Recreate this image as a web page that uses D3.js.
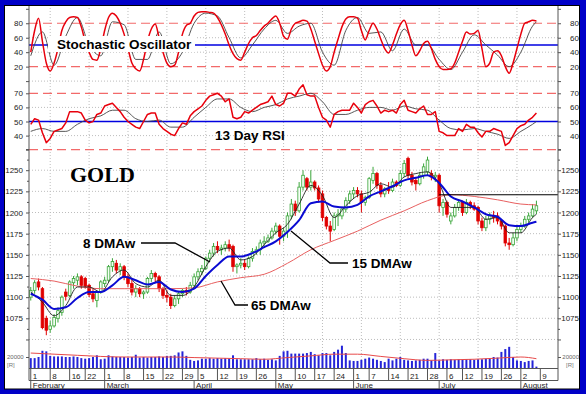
<!DOCTYPE html>
<html>
<head>
<meta charset="utf-8">
<script src="https://cdn.jsdelivr.net/npm/d3@7"></script>
<style>
  body { margin: 0; background: #fff; }
  svg text { font-family: "Liberation Sans", Arial, sans-serif; }
</style>
</head>
<body>
<svg id="mainsvg" width="586" height="394"></svg>
<script>
// ---- data (trading days, Feb 1 .. Aug 6) ----
const open = [1100,1108,1118,1110,1075,1062,1066,1075,1082,1106,
  1102,1117,1120,1124,1122,1114,1104,1096,1106,1116,
  1120,1136,1140,1132,1136,1124,1116,1106,1110,1104,
  1106,1122,1128,1124,1110,1102,1100,1090,1098,1104,
  1108,1106,1114,1124,1130,1134,1146,1152,1160,1156,
  1158,1162,1160,1136,1138,1140,1136,1146,1154,1156,
  1164,1166,1170,1178,1184,1172,1178,1196,1210,1202,
  1230,1240,1230,1236,1229,1222,1194,1184,1180,1196,
  1196,1204,1214,1222,1226,1222,1212,1218,1238,1246,
  1232,1222,1228,1226,1236,1232,1246,1264,1244,1238,
  1234,1244,1248,1246,1242,1244,1206,1212,1190,1196,
  1206,1212,1200,1212,1208,1206,1190,1182,1192,1196,
  1196,1190,1184,1164,1162,1170,1180,1184,1192,1196,
  1202]
const high = [1112,1120,1122,1112,1078,1072,1080,1088,1102,1110,
  1120,1125,1128,1126,1124,1116,1110,1108,1120,1124,
  1138,1146,1144,1140,1138,1128,1122,1114,1112,1108,
  1124,1132,1130,1126,1112,1108,1104,1102,1106,1110,
  1112,1118,1128,1134,1138,1148,1156,1164,1166,1162,
  1166,1168,1162,1140,1146,1144,1148,1158,1160,1168,
  1172,1174,1182,1188,1186,1182,1200,1216,1214,1236,
  1250,1242,1250,1238,1232,1226,1196,1190,1200,1204,
  1206,1218,1226,1230,1230,1226,1220,1242,1254,1248,
  1236,1230,1236,1240,1238,1250,1262,1266,1248,1242,
  1248,1258,1266,1250,1248,1246,1216,1214,1200,1210,
  1216,1214,1216,1214,1212,1208,1194,1196,1200,1202,
  1200,1192,1186,1170,1176,1184,1188,1196,1200,1210,
  1214]
const low = [1096,1104,1108,1062,1055,1058,1064,1070,1078,1096,
  1100,1110,1114,1110,1110,1100,1094,1088,1104,1112,
  1118,1130,1128,1126,1120,1112,1102,1100,1100,1098,
  1104,1118,1118,1106,1098,1094,1086,1088,1092,1100,
  1102,1104,1112,1120,1126,1132,1142,1148,1152,1150,
  1154,1154,1130,1128,1134,1132,1134,1142,1150,1150,
  1158,1164,1168,1174,1162,1166,1170,1192,1196,1200,
  1226,1226,1226,1226,1212,1190,1180,1166,1178,1184,
  1192,1200,1210,1216,1218,1200,1208,1216,1234,1228,
  1218,1218,1222,1224,1230,1230,1242,1240,1232,1226,
  1232,1240,1244,1238,1236,1200,1196,1194,1186,1194,
  1202,1196,1198,1204,1202,1186,1178,1178,1186,1188,
  1186,1180,1160,1156,1160,1166,1176,1182,1188,1194,
  1198]
const close = [1108,1117,1112,1064,1061,1066,1076,1084,1100,1101,
  1118,1122,1124,1114,1113,1103,1098,1106,1118,1120,
  1136,1142,1132,1136,1124,1116,1106,1110,1104,1106,
  1122,1128,1124,1110,1102,1100,1090,1098,1104,1108,
  1106,1114,1124,1130,1134,1146,1152,1160,1156,1158,
  1162,1158,1136,1138,1140,1136,1146,1154,1156,1164,
  1166,1170,1178,1184,1172,1178,1196,1210,1202,1230,
  1244,1230,1236,1229,1216,1194,1184,1178,1196,1198,
  1204,1214,1222,1226,1222,1212,1218,1240,1246,1232,
  1222,1228,1226,1236,1232,1246,1258,1244,1236,1234,
  1244,1254,1262,1242,1244,1208,1212,1198,1196,1206,
  1212,1200,1212,1208,1204,1190,1182,1192,1196,1194,
  1190,1184,1164,1162,1170,1180,1184,1192,1196,1204,
  1208]
const volume = [18,18,20,31,30,22,21,21,21,20,
  20,21,20,18,17,18,20,23,16,17,
  23,21,20,20,20,19,20,24,19,20,
  19,20,20,21,20,22,22,23,28,30,
  22,15,13,14,17,17,18,17,18,17,
  18,17,23,16,16,16,16,16,18,16,
  17,15,16,14,22,30,31,26,26,26,
  26,27,29,25,23,27,27,23,29,33,
  40,27,14,13,13,15,17,19,17,15,
  13,11,17,14,17,20,15,14,13,14,
  15,17,17,14,27,14,16,15,16,15,
  16,15,16,16,15,16,16,17,17,20,
  19,29,34,38,20,14,13,11,13,14,
  3]   // thousands
const stochK = [40,70,87,55,25,14,25,45,70,82,
  88,89,88,75,55,40,30,29,45,70,
  88,94,90,80,65,45,25,17,14,30,
  55,72,79,60,40,25,20,22,40,65,
  77,80,90,95,96,96,95,94,88,78,
  65,50,38,31,29,40,52,60,63,70,
  76,80,86,90,80,62,58,72,80,82,
  84,83,72,55,38,22,14,20,40,58,
  75,86,89,89,87,70,57,70,80,72,
  58,45,39,50,65,78,84,70,50,35,
  42,52,55,45,30,20,16,16,17,25,
  40,55,68,65,66,70,45,20,25,40,
  42,35,20,11,25,45,65,80,82,84,
  83]
const rsi = [48,52,51,42,35,38,43,44,45,49,
  57,57,57,56,51,49,50,55,56,61,
  62,63,60,57,53,50,48,46,45,50,
  55,56,56,48,45,43,41,40,45,49,
  48,54,57,59,61,65,68,69,70,68,
  64,66,53,52,53,57,56,58,60,62,
  63,64,68,62,61,63,70,70,68,73,
  76,69,68,68,60,53,51,46,55,57,
  58,58,58,63,60,56,62,64,65,61,
  56,58,57,58,56,62,65,58,57,56,
  59,61,55,55,57,43,42,40,40,40,
  45,43,48,46,46,42,39,43,43,45,
  44,43,33,35,40,45,47,48,51,53,
  56]

// smoothed lines read every 3rd trading day
const smoothDays = d3.range(0, 130, 3).concat([130])
const ma15 = [1104,1097,1086,1088,1099,1106,1106,1114,1124,1120,1115,1118,1109,1106,1110,
  1125,1138,1148,1148,1152,1159,1166,1177,1191,1211,1213,1207,1206,1209,1219,
  1225,1231,1238,1241,1244,1235,1219,1213,1206,1198,1195,1185,1184,1188,1189]
const ma8 = [1106,1094,1078,1090,1112,1112,1106,1124,1132,1116,1112,1120,1102,1102,1112,
  1136,1154,1158,1144,1148,1162,1176,1186,1210,1232,1220,1194,1208,1220,1224,
  1234,1230,1242,1246,1248,1234,1206,1206,1206,1192,1194,1176,1176,1194,1198]
const stochD = [35,68,22,62,88,50,35,82,78,30,30,68,24,40,80,
  94,90,60,32,50,72,84,66,76,80,40,22,70,88,66,
  68,42,72,50,50,30,16,40,64,50,36,20,40,76,82]
const rsiMA = [43,45,43,43,48,52,54,58,58,52,50,51,46,46,53,
  60,66,66,60,57,60,62,66,68,70,64,55,55,58,60,
  60,58,61,59,58,51,45,44,45,43,41,38,43,48,50]

// slow lines read every 6th trading day
const slowDays = d3.range(0, 130, 6).concat([130])
const ma65 = [1122,1119,1113,1110,1110,1110,1110,1111,1118,1123,1127,1140,
  1156,1167,1178,1191,1202,1214,1221,1219,1215,1210,1209]
const volMA = [27,25,23,21,20,20,20,19,18,17,16,19,22,25,25,21,17,14,15,16,18,20,17]

const resistLevel = 1221, resistFrom = 105

// date axis
const weekDays = [0,5,10,14,19,24,29,34,39,43,48,53,58,63,68,73,78,83,87,92,97,102,107,111,116,121,126,131]
const weekLabels = ['1','8','16','22','1','8','15','22','29','5','12','19','26','3','10','17','24','1','7','14','21','28','6','12','19','26','2','9']
const monthDays = [0,19,42,63,83,105,126]
const monthLabels = ['February','March','April','May','June','July','August']
const gridDays = d3.range(5, 130, 10)

const stochTicks = [0,20,40,60,80,100]
const rsiTicks = [30,40,50,60,70]
const priceTicks = d3.range(1050, 1276, 25)

// ---- chart ----
const svg = d3.select('#mainsvg')
const width = +svg.attr('width')
const height = +svg.attr('height')

svg.append('rect').attr('width', width).attr('height', height).attr('fill', '#0000c8')
svg.append('rect').attr('x', 4.5).attr('y', 5.5).attr('width', 575).attr('height', 383.5)
  .attr('fill', '#fff').attr('stroke', '#000')

const x = d3.scaleLinear().domain([-0.45, 135.55]).range([29, 558])
const yStoch = d3.scaleLinear().domain([0, 100]).range([81.1, 8.8])
const yRsi = d3.scaleLinear().domain([30, 70]).range([149.7, 93.3])
const yPrice = d3.scaleLinear().domain([1075, 1250]).range([318.3, 170.2])
const yVol = d3.scaleLinear().domain([0, 20]).range([368.3, 357])
const days = d3.range(close.length)

const g = svg.append('g')

// grid
const grid = g.append('g').attr('stroke', '#bdbdbd').attr('stroke-dasharray', '1,2')
grid.selectAll('.vg').data(gridDays).join('line')
  .attr('x1', d => x(d)).attr('x2', d => x(d)).attr('y1', 8).attr('y2', 368)
const hgrid = [].concat([0, 40, 60].map(v => yStoch(v)), [40, 60].map(v => yRsi(v)),
  d3.range(1050, 1251, 25).map(v => yPrice(v)))
grid.selectAll('.hg').data(hgrid).join('line')
  .attr('x1', 29).attr('x2', 558).attr('y1', d => d).attr('y2', d => d)

// reference lines
const dashed = [yStoch(80), yStoch(20), yRsi(70), yRsi(30)]
g.selectAll('.dl').data(dashed).join('line')
  .attr('x1', 29).attr('x2', 558).attr('y1', d => d).attr('y2', d => d)
  .attr('stroke', '#f26a6a').attr('stroke-width', 1.2).attr('stroke-dasharray', '9,5')
g.selectAll('.bl').data([yStoch(50), yRsi(50)]).join('line')
  .attr('x1', 29).attr('x2', 558).attr('y1', d => d).attr('y2', d => d)
  .attr('stroke', '#0000e0').attr('stroke-width', 1.5)

function series(xs, vals, yScale, color, w, curve) {
  g.append('path').datum(vals)
    .attr('d', d3.line().x((d, i) => x(xs[i])).y(d => yScale(d)).curve(curve || d3.curveLinear))
    .attr('fill', 'none').attr('stroke', color).attr('stroke-width', w)
    .attr('stroke-linejoin', 'round')
}

// stochastic + rsi
series(smoothDays, stochD, yStoch, '#444', 0.9, d3.curveMonotoneX)
series(days, stochK, yStoch, '#e8000c', 1.5, d3.curveMonotoneX)
series(smoothDays, rsiMA, yRsi, '#444', 0.9, d3.curveMonotoneX)
series(days, rsi, yRsi, '#e8000c', 1.5)

// candles
const candles = g.append('g')
candles.selectAll('line').data(days).join('line')
  .attr('x1', i => x(i)).attr('x2', i => x(i))
  .attr('y1', i => yPrice(high[i])).attr('y2', i => yPrice(low[i]))
  .attr('stroke', i => close[i] >= open[i] ? '#3aa53a' : '#e00000').attr('stroke-width', 1)
candles.selectAll('rect').data(days).join('rect')
  .attr('x', i => x(i) - 1.3).attr('width', 2.6)
  .attr('y', i => yPrice(Math.max(open[i], close[i])))
  .attr('height', i => Math.max(1, Math.abs(yPrice(open[i]) - yPrice(close[i]))))
  .attr('fill', i => close[i] >= open[i] ? '#f4fff4' : '#e00000')
  .attr('stroke', i => close[i] >= open[i] ? '#3aa53a' : '#e00000').attr('stroke-width', 0.8)

// moving averages
series(slowDays, ma65, yPrice, '#e86060', 1, d3.curveMonotoneX)
series(smoothDays, ma8, yPrice, '#222', 0.9, d3.curveMonotoneX)
series(smoothDays, ma15, yPrice, '#0a0ad2', 2, d3.curveMonotoneX)
g.append('line').attr('x1', x(resistFrom)).attr('x2', 558)
  .attr('y1', yPrice(resistLevel)).attr('y2', yPrice(resistLevel))
  .attr('stroke', '#000').attr('stroke-width', 1.2)

// volume
g.append('g').selectAll('rect').data(days).join('rect')
  .attr('x', i => x(i) - 1).attr('width', 2)
  .attr('y', i => yVol(volume[i])).attr('height', i => yVol(0) - yVol(volume[i]))
  .attr('fill', '#2424d8')
series(slowDays, volMA, yVol, '#e84a4a', 1, d3.curveMonotoneX)

// axes
const axisFont = g => g.attr('font-family', '"Liberation Sans", Arial, sans-serif')
  .attr('font-size', 8)
function sideAxes(scale, ticks, fmt, size) {
  const l = svg.append('g').attr('transform', 'translate(29,0)')
    .call(d3.axisLeft(scale).tickValues(ticks).tickSize(size).tickPadding(3).tickFormat(fmt))
  const r = svg.append('g').attr('transform', 'translate(558,0)')
    .call(d3.axisRight(scale).tickValues(ticks).tickSize(size).tickPadding(3).tickFormat(fmt))
  r.selectAll('text').attr('x', 21).attr('text-anchor', 'end');
  [l, r].forEach(a => {
    a.call(axisFont)
    a.select('.domain').remove()
    a.selectAll('line').attr('stroke', '#555')
    a.selectAll('text').attr('fill', '#222')
  })
}
sideAxes(yStoch, stochTicks, d => (d === 0 || d === 100) ? '' : d, 3)
sideAxes(yRsi, rsiTicks, d => d === 30 ? '' : d, 3)
sideAxes(yPrice, priceTicks, d => (d < 1075 || d > 1250) ? '' : d, 3)
sideAxes(yPrice, priceTicks.map(d => d + 12.5).slice(0, -1), () => '', 2)
sideAxes(yVol, [20], () => '', 3)

// volume labels
;[[7, 'start'], [579, 'end']].forEach(([px, anchor]) => {
  svg.append('text').attr('x', px + (anchor === 'start' ? 0 : 0)).attr('y', yVol(20) + 2)
    .attr('text-anchor', anchor).attr('font-size', 6).attr('fill', '#666').text('20000')
  svg.append('text').attr('x', anchor === 'start' ? 7 : 566).attr('y', 367)
    .attr('font-size', 6).attr('fill', '#777').text('[R]')
})

svg.append('g').attr('stroke', '#555').selectAll('line').data([29, 558]).join('line')
  .attr('x1', d => d).attr('x2', d => d).attr('y1', 6).attr('y2', 380.5)

// date axis
const dateAx = svg.append('g').attr('stroke', '#555')
dateAx.selectAll('.h').data([368.5, 380.5]).join('line')
  .attr('x1', 29).attr('x2', 558).attr('y1', d => d).attr('y2', d => d)
dateAx.selectAll('.w').data(weekDays).join('line')
  .attr('x1', d => x(d)).attr('x2', d => x(d)).attr('y1', 368.5).attr('y2', 380.5)
dateAx.selectAll('.m').data(monthDays).join('line')
  .attr('x1', d => x(d)).attr('x2', d => x(d)).attr('y1', 380.5).attr('y2', 389)
svg.append('g').call(axisFont).selectAll('text').data(weekDays).join('text')
  .attr('x', d => x(d) + 2).attr('y', 378.5).attr('fill', '#222')
  .text((d, i) => weekLabels[i])
svg.append('g').call(axisFont).selectAll('text').data(monthDays).join('text')
  .attr('x', d => x(d) + 2).attr('y', 388).attr('fill', '#222')
  .text((d, i) => monthLabels[i])

// titles and labels
svg.append('rect').attr('x', 48).attr('y', 36).attr('width', 147).attr('height', 16).attr('fill', '#fff')
svg.append('text').attr('x', 57).attr('y', 49).attr('font-size', 13.5).attr('font-weight', 'bold')
  .attr('fill', '#000').text('Stochastic Oscillator')
svg.append('text').attr('x', 215).attr('y', 140).attr('font-size', 13.5).attr('font-weight', 'bold')
  .attr('fill', '#000').text('13 Day RSI')
svg.append('text').attr('x', 70).attr('y', 182).attr('font-size', 22).attr('font-weight', 'bold')
  .style('font-family', '"Liberation Serif", "Times New Roman", serif').attr('fill', '#000').text('GOLD')

const notes = [
  { text: '8 DMAw', x: 83, y: 248, path: [[141, 243], [175, 243], [210, 262]] },
  { text: '15 DMAw', x: 352, y: 268, path: [[291, 231], [330, 263], [348, 263]] },
  { text: '65 DMAw', x: 251, y: 310, path: [[221, 281], [235, 305], [248, 305]] }
]
notes.forEach(n => {
  svg.append('path').attr('d', d3.line()(n.path)).attr('fill', 'none')
    .attr('stroke', '#000').attr('stroke-width', 1.3)
  svg.append('text').attr('x', n.x).attr('y', n.y).attr('font-size', 13.5)
    .attr('font-weight', 'bold').attr('fill', '#000').text(n.text)
})
</script>
</body>
</html>
